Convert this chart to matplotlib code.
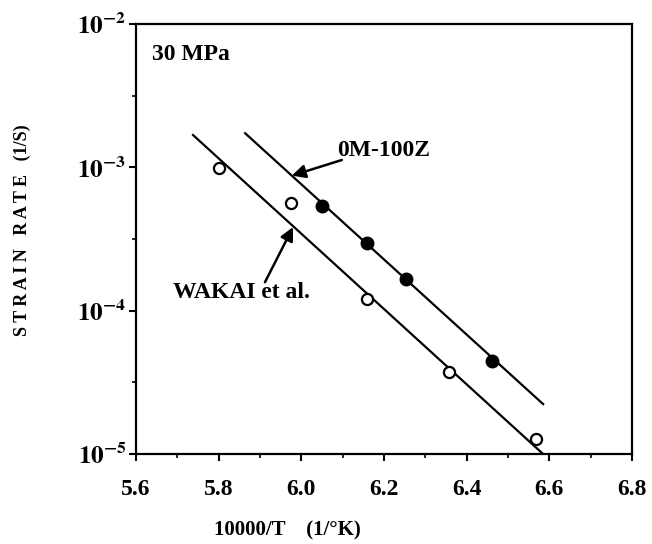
import numpy as np
import matplotlib
matplotlib.use("Agg")
import matplotlib.pyplot as plt
from matplotlib.ticker import FixedLocator, FuncFormatter

plt.rcParams['font.family'] = ['Liberation Serif', 'DejaVu Serif']
plt.rcParams['font.weight'] = 'bold'
plt.rcParams['mathtext.fontset'] = 'stix'

# data
wakai_x = [5.80, 5.975, 6.16, 6.357, 6.568]
wakai_y = [9.9e-4, 5.6e-4, 1.2e-4, 3.73e-5, 1.27e-5]
zirc_x = [6.05, 6.16, 6.253, 6.461]
zirc_y = [5.37e-4, 2.97e-4, 1.66e-4, 4.45e-5]

# fitted lines (end points)
wakai_fit_x = [5.738, 6.585]
wakai_fit_y = [1.68e-3, 1.0e-5]
zirc_fit_x = [5.864, 6.585]
zirc_fit_y = [1.73e-3, 2.23e-5]

x_ticks = [5.6, 5.8, 6.0, 6.2, 6.4, 6.6, 6.8]
y_ticks = [1e-5, 1e-4, 1e-3, 1e-2]

fig = plt.figure(figsize=(6.52, 5.44), dpi=100)
ax = fig.add_axes([0.2086, 0.1654, 0.7607, 0.7905])

ax.plot(wakai_fit_x, wakai_fit_y, color='black', lw=1.6)
ax.plot(zirc_fit_x, zirc_fit_y, color='black', lw=1.6)
ax.plot(wakai_x, wakai_y, 'o', mfc='white', mec='black', mew=1.6, ms=8, zorder=3)
ax.plot(zirc_x, zirc_y, 'o', mfc='black', mec='black', ms=9, zorder=3)

ax.set_yscale('log')
ax.set_xlim(5.6, 6.8)
ax.set_ylim(1e-5, 1e-2)

ax.xaxis.set_major_locator(FixedLocator(x_ticks))
ax.xaxis.set_minor_locator(FixedLocator(np.arange(5.7, 6.8, 0.2)))
ax.set_xticklabels(['%.1f' % v for v in x_ticks], fontsize=17, fontweight='bold')
ax.yaxis.set_major_locator(FixedLocator(y_ticks))
ax.yaxis.set_minor_locator(FixedLocator([10 ** -4.5, 10 ** -3.5, 10 ** -2.5]))
ax.yaxis.set_major_formatter(FuncFormatter(
    lambda v, p: r'$\mathbf{10}^{\mathbf{%d}}$' % round(np.log10(v))))
for lab in ax.get_yticklabels():
    lab.set_fontsize(18)

ax.tick_params(which='major', direction='out', length=5, width=1.5)
ax.tick_params(axis='x', which='major', pad=13)
ax.tick_params(axis='y', which='major', pad=2)
ax.tick_params(which='minor', direction='out', length=3, width=1.2)
for s in ax.spines.values():
    s.set_linewidth(1.6)

ax.set_xlabel('10000/T    (1/°K)', fontsize=15, fontweight='bold', va='center')
ax.xaxis.set_label_coords(0.306, -0.177)
ax.set_ylabel('S T R A I N   R A T E   (1/S)', fontsize=13, fontweight='bold',
              va='center')
ax.yaxis.set_label_coords(-0.23, 0.521)

ax.text(0.032, 0.93, '30 MPa', transform=ax.transAxes, fontsize=17,
        fontweight='bold', va='center')

# 0M-100Z label and arrow
ax.text(6.086, 1.32e-3, '0M-100Z', fontsize=17, fontweight='bold',
        va='center', ha='left')
ax.annotate('', xy=(5.977, 8.75e-4), xytext=(6.098, 1.125e-3),
            arrowprops=dict(arrowstyle='-|>', color='black', lw=1.8,
                            mutation_scale=20, shrinkA=0, shrinkB=0))

# WAKAI label and arrow
ax.text(5.856, 1.33e-4, 'WAKAI et al.', fontsize=17, fontweight='bold',
        va='center', ha='center')
ax.annotate('', xy=(5.98, 3.83e-4), xytext=(5.912, 1.58e-4),
            arrowprops=dict(arrowstyle='-|>', color='black', lw=1.8,
                            mutation_scale=20, shrinkA=0, shrinkB=0))

fig.savefig('out.png', dpi=100)
